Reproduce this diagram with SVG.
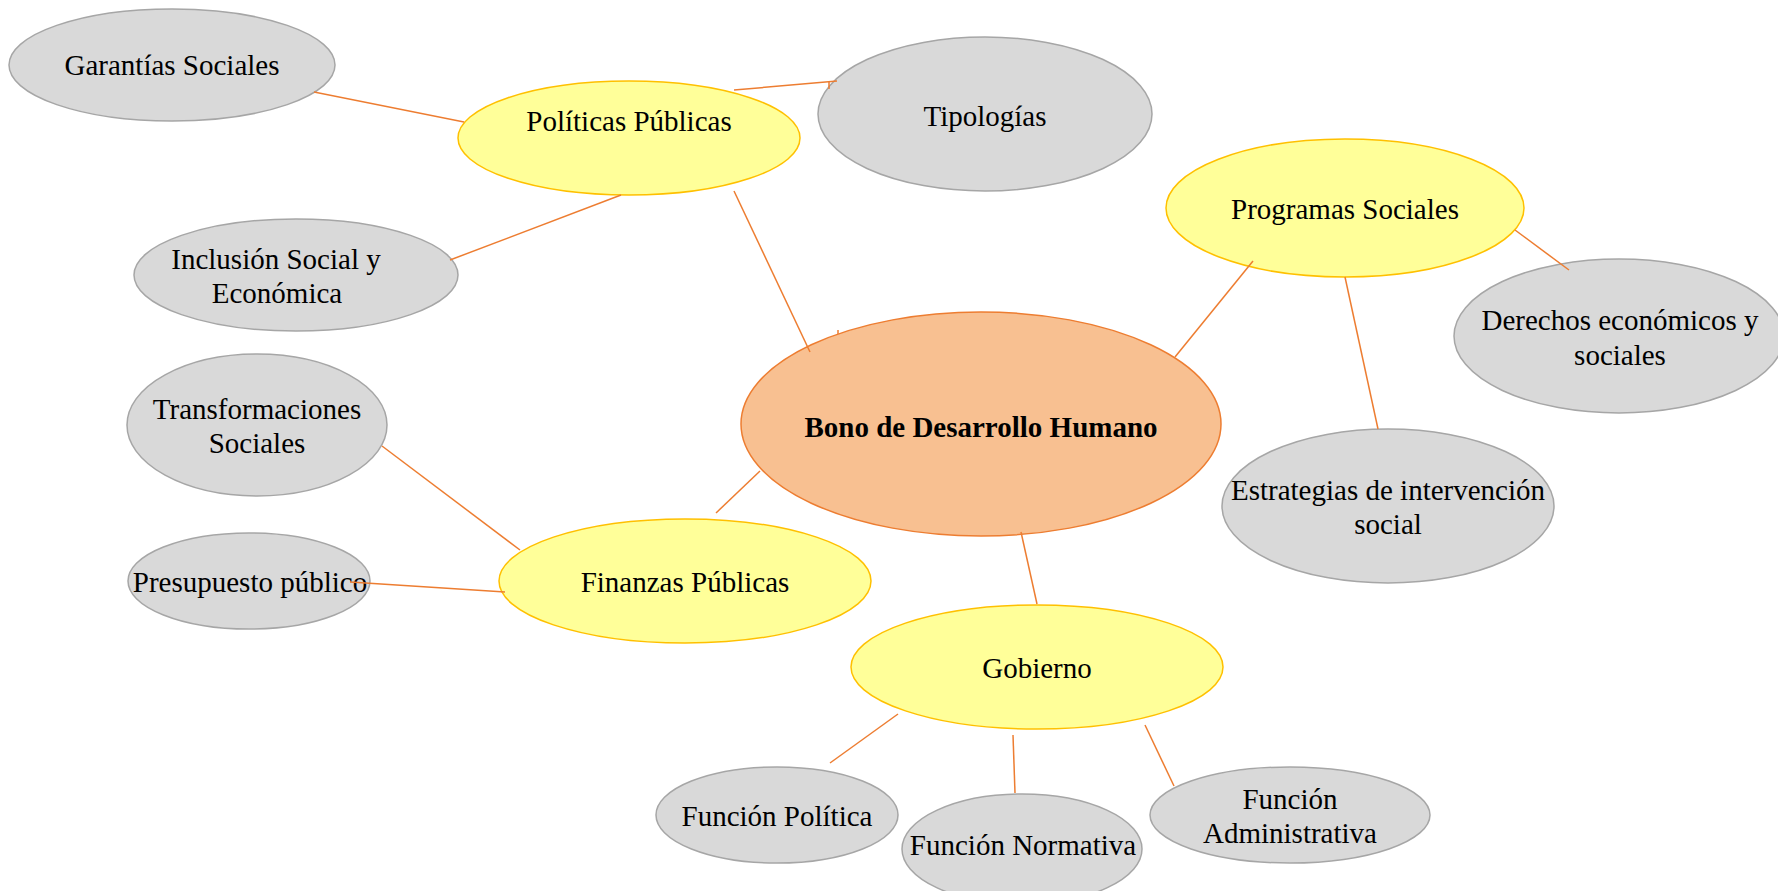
<svg xmlns="http://www.w3.org/2000/svg" width="1778" height="891" viewBox="0 0 1778 891">
<style>
.g{fill:#D9D9D9;stroke:#A6A6A6;stroke-width:1.5}
.y{fill:#FFFF99;stroke:#FFC000;stroke-width:1.5}
.o{fill:#F8C091;stroke:#ED7D31;stroke-width:1.5}
text{font-family:"Liberation Serif","Times New Roman",serif;font-size:29px;fill:#000;text-anchor:middle}
.b{font-weight:bold}
#connectors line{stroke:#ED7D31;stroke-width:1.5}
</style>
<rect width="1778" height="891" fill="#fff"/>
<g id="garantias"><ellipse class="g" cx="172" cy="65" rx="163" ry="56"/><text x="172" y="75">Garantías Sociales</text></g>
<g id="politicas"><ellipse class="y" cx="629" cy="138" rx="171" ry="57"/><text x="629" y="131">Políticas Públicas</text></g>
<g id="tipologias"><ellipse class="g" cx="985" cy="114" rx="167" ry="77"/><text x="985" y="126">Tipologías</text></g>
<g id="inclusion"><ellipse class="g" cx="296" cy="275" rx="162" ry="56"/><text x="276" y="269">Inclusión Social y</text><text x="277" y="303">Económica</text></g>
<g id="programas"><ellipse class="y" cx="1345" cy="208" rx="179" ry="69"/><text x="1345" y="219">Programas Sociales</text></g>
<g id="derechos"><ellipse class="g" cx="1619" cy="336" rx="165" ry="77"/><text x="1620" y="330">Derechos económicos y</text><text x="1620" y="365">sociales</text></g>
<g id="bono"><ellipse class="o" cx="981" cy="424" rx="240" ry="112"/><text class="b" x="981" y="437">Bono de Desarrollo Humano</text></g>
<g id="transformaciones"><ellipse class="g" cx="257" cy="425" rx="130" ry="71"/><text x="257" y="419">Transformaciones</text><text x="257" y="453">Sociales</text></g>
<g id="estrategias"><ellipse class="g" cx="1388" cy="506" rx="166" ry="77"/><text x="1388" y="500">Estrategias de intervención</text><text x="1388" y="534">social</text></g>
<g id="finanzas"><ellipse class="y" cx="685" cy="581" rx="186" ry="62"/><text x="685" y="592">Finanzas Públicas</text></g>
<g id="presupuesto"><ellipse class="g" cx="249" cy="581" rx="121" ry="48"/><text x="250" y="592">Presupuesto público</text></g>
<g id="gobierno"><ellipse class="y" cx="1037" cy="667" rx="186" ry="62"/><text x="1037" y="678">Gobierno</text></g>
<g id="funcion-politica"><ellipse class="g" cx="777" cy="815" rx="121" ry="48"/><text x="777" y="826">Función Política</text></g>
<g id="funcion-normativa"><ellipse class="g" cx="1022" cy="849" rx="120" ry="55"/><text x="1023" y="855">Función Normativa</text></g>
<g id="funcion-administrativa"><ellipse class="g" cx="1290" cy="815" rx="140" ry="48"/><text x="1290" y="809">Función</text><text x="1290" y="843">Administrativa</text></g>
<g id="connectors">
<line x1="314" y1="92" x2="464" y2="122"/>
<line x1="734" y1="90" x2="837" y2="81"/>
<line x1="829" y1="81" x2="829" y2="89"/>
<line x1="621" y1="195" x2="450" y2="260"/>
<line x1="734" y1="191" x2="810" y2="352"/>
<line x1="838" y1="330" x2="838" y2="334"/>
<line x1="1175" y1="357" x2="1253" y2="261"/>
<line x1="1515" y1="230" x2="1569" y2="270"/>
<line x1="1345" y1="277" x2="1378" y2="429"/>
<line x1="760" y1="471" x2="716" y2="513"/>
<line x1="382" y1="446" x2="520" y2="550"/>
<line x1="350" y1="582" x2="505" y2="592"/>
<line x1="1021" y1="532" x2="1037" y2="604"/>
<line x1="898" y1="714" x2="830" y2="763"/>
<line x1="1013" y1="735" x2="1015" y2="793"/>
<line x1="1145" y1="725" x2="1174" y2="786"/>
</g>
</svg>
